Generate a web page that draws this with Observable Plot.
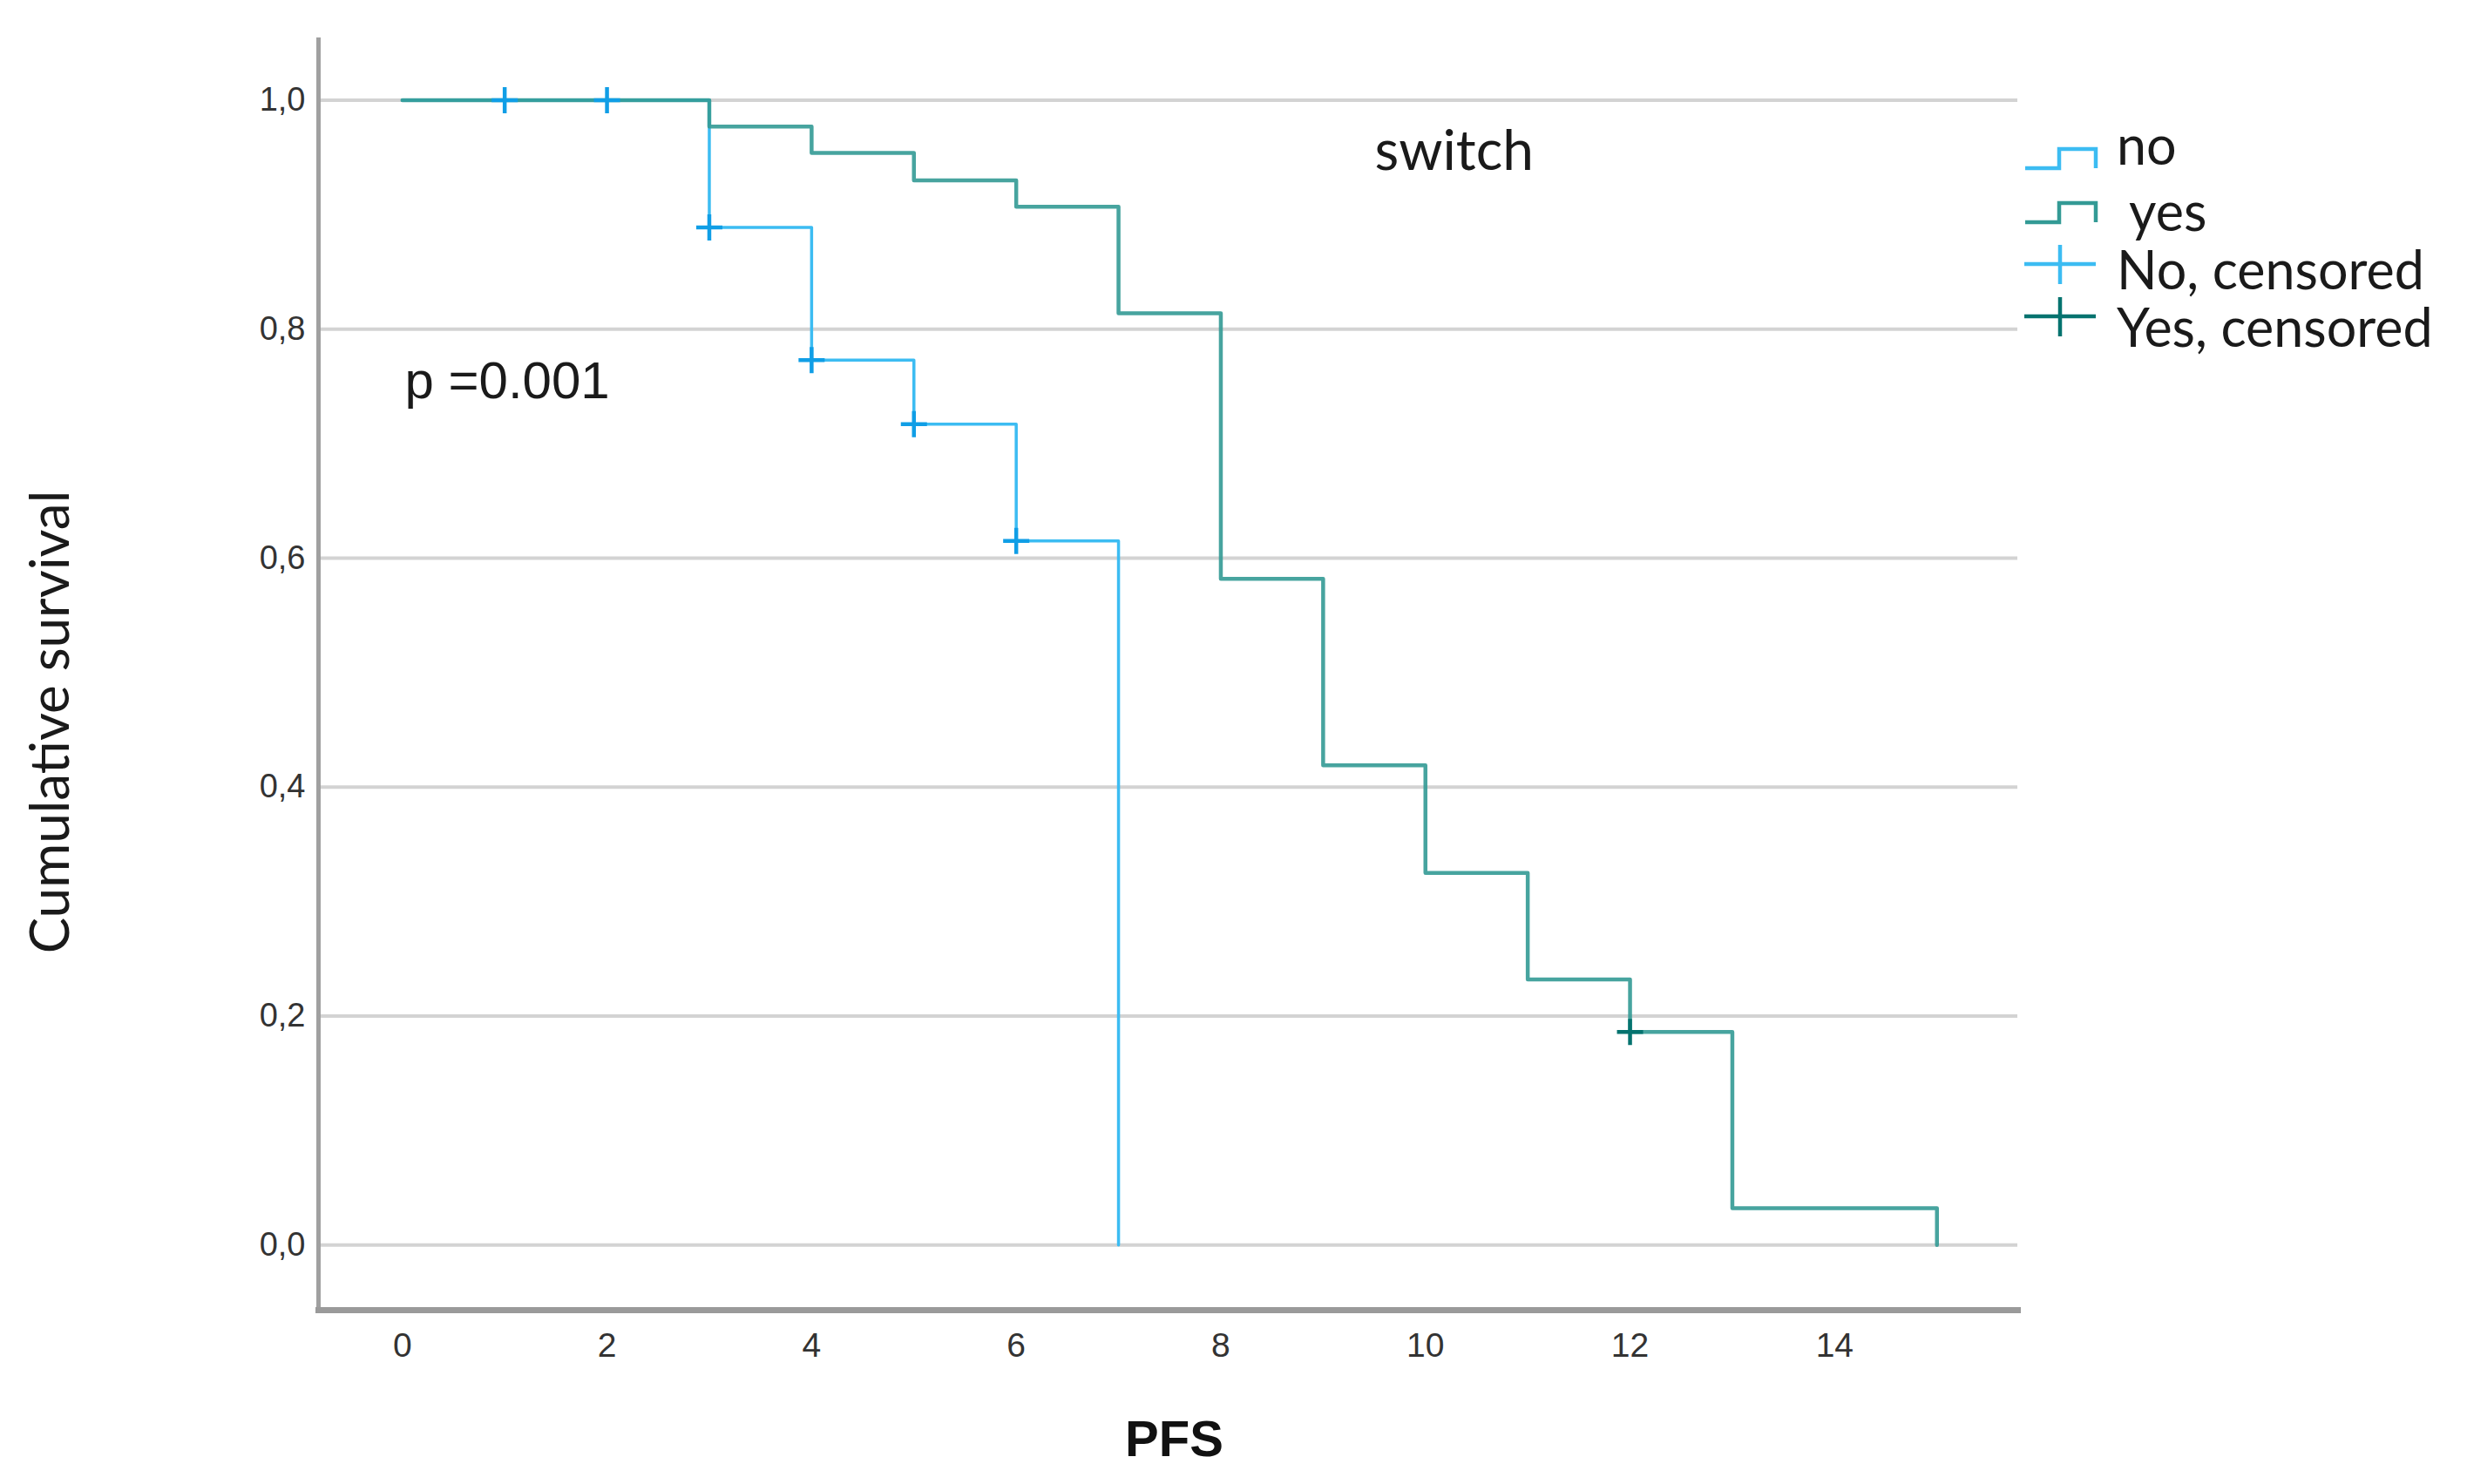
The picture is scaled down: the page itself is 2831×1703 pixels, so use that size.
<!DOCTYPE html>
<html>
<head>
<meta charset="utf-8">
<script src="https://cdn.jsdelivr.net/npm/d3@7"></script>
<script src="https://cdn.jsdelivr.net/npm/@observablehq/plot@0.6"></script>
<style>
  html, body { margin: 0; padding: 0; background: #fff; }
  #chart svg { display: block; }
</style>
</head>
<body>
<div id="chart"></div>
<script>
// ---- Data ----
const noTimes = [0, 3, 4, 5, 6, 7];
const noSurv = [1, 0.889, 0.773, 0.717, 0.615, 0];
const noCensorTimes = [1, 2, 3, 4, 5, 6];
const noCensorSurv = [1, 1, 0.889, 0.773, 0.717, 0.615];

const yesTimes = [0, 3, 4, 5, 6, 7, 8, 9, 10, 11, 12, 13, 15];
const yesSurv = [1, 0.977, 0.954, 0.930, 0.907, 0.814, 0.582, 0.419, 0.325, 0.232, 0.186, 0.032, 0];
const yesCensorTimes = [12];
const yesCensorSurv = [0.186];

const xTicks = [0, 2, 4, 6, 8, 10, 12, 14];
const xTickLabels = ["0", "2", "4", "6", "8", "10", "12", "14"];
const yTicks = [0, 0.2, 0.4, 0.6, 0.8, 1.0];
const yTickLabels = ["0,0", "0,2", "0,4", "0,6", "0,8", "1,0"];

const xLabel = ["PFS"];
const yLabel = ["Cumulative survival"];
const pValueText = ["p =0.001"];
const legendTitle = ["switch"];
const legendLabels = ["no", " yes", "No, censored", "Yes, censored"];

// ---- Build tables ----
const noCurve = noTimes.map((t, i) => ({t, s: noSurv[i]}));
const yesCurve = yesTimes.map((t, i) => ({t, s: yesSurv[i]}));
const noCensor = noCensorTimes.map((t, i) => ({t, s: noCensorSurv[i]}));
const yesCensor = yesCensorTimes.map((t, i) => ({t, s: yesCensorSurv[i]}));

const colNoLine = "#3cbcf2";
const colNoMark = "#109ee6";
const colYesLine = "#339a95";
const colYesMark = "#05736f";

const plusSymbol = {
  draw(context, size) {
    const r = Math.sqrt(size / Math.PI);
    context.moveTo(-r, 0); context.lineTo(r, 0);
    context.moveTo(0, -r); context.lineTo(0, r);
  }
};

const chart = Plot.plot({
  width: 2831,
  height: 1703,
  marginLeft: 365,
  marginRight: 516,
  marginTop: 45,
  marginBottom: 200,
  style: {fontFamily: "'Liberation Sans', Arial, sans-serif", fontSize: "38px", color: "#333", background: "#fff"},
  x: {domain: [-0.82, 15.79], label: null},
  y: {domain: [-0.057, 1.053], label: null},
  marks: [
    Plot.ruleY(yTicks, {stroke: "#d3d3d3", strokeWidth: 4}),
    Plot.frame({anchor: "left", stroke: "#a0a0a0", strokeWidth: 5}),
    Plot.frame({anchor: "bottom", stroke: "#9a9a9a", strokeWidth: 7}),
    Plot.axisX(xTicks, {tickSize: 0, tickPadding: 26, label: null, fontSize: 39, fill: "#333",
      tickFormat: d => xTickLabels[xTicks.indexOf(d)]}),
    Plot.axisY(yTicks, {tickSize: 0, tickPadding: 15, label: null, fontSize: 38, fill: "#333",
      tickFormat: d => yTickLabels[yTicks.indexOf(d)]}),
    Plot.line(noCurve, {x: "t", y: "s", curve: "step-after", stroke: colNoLine, strokeWidth: 3.5}),
    Plot.line(yesCurve, {x: "t", y: "s", curve: "step-after", stroke: colYesLine, strokeWidth: 4.5, strokeOpacity: 0.9}),
    Plot.dot(noCensor, {x: "t", y: "s", symbol: plusSymbol, r: 15, fill: "none", stroke: colNoMark, strokeWidth: 4.5}),
    Plot.dot(yesCensor, {x: "t", y: "s", symbol: plusSymbol, r: 15, fill: "none", stroke: colYesMark, strokeWidth: 4.5}),
    Plot.text(pValueText, {frameAnchor: "top-left", dx: 99, dy: 411, textAnchor: "start", lineAnchor: "bottom",
      fontSize: 60, fill: "#1a1a1a"}),
    Plot.text(legendTitle, {frameAnchor: "top-left", dx: 1212, dy: 149, textAnchor: "start", lineAnchor: "bottom",
      fontSize: 64, fontFamily: "Lato, 'Open Sans', sans-serif", fill: "#1a1a1a"}),
    Plot.text(yLabel, {frameAnchor: "left", dx: -287, dy: 54, rotate: -90, textAnchor: "middle", lineAnchor: "bottom",
      fontSize: 62, fontFamily: "Lato, 'Open Sans', sans-serif", fill: "#1a1a1a"}),
    Plot.text(xLabel, {frameAnchor: "bottom", dx: 7, dy: 167, textAnchor: "middle", lineAnchor: "bottom",
      fontSize: 58, fontWeight: "bold", fill: "#111"})
  ]
});

document.getElementById("chart").appendChild(chart);

// ---- Legend (right of the plot) ----
const svg = d3.select(chart);
const lg = svg.append("g").attr("class", "km-legend").attr("text-anchor", "start");
const legendColors = [colNoLine, colYesLine, colNoLine, colYesMark];
const legendKinds = ["step", "step", "plus", "plus"];
const rowBase = [193, 255, 303, 363];
const textBase = [189, 265, 332, 398];
legendLabels.forEach((label, i) => {
  const c = legendColors[i];
  if (legendKinds[i] === "step") {
    const low = rowBase[i], high = rowBase[i] - 22;
    lg.append("path")
      .attr("d", `M2324,${low}H2363V${high}H2405V${low}`)
      .attr("fill", "none").attr("stroke", c).attr("stroke-width", 4.5);
  } else {
    const cy = rowBase[i];
    lg.append("path")
      .attr("d", `M2323,${cy}H2405M2364,${cy - 22}V${cy + 23}`)
      .attr("fill", "none").attr("stroke", c).attr("stroke-width", 4.5);
  }
  lg.append("text")
    .attr("x", 2429).attr("y", textBase[i])
    .attr("text-anchor", "start")
    .attr("font-family", "Lato, 'Open Sans', sans-serif")
    .attr("font-size", 61)
    .attr("fill", "#1a1a1a")
    .attr("xml:space", "preserve")
    .style("white-space", "pre")
    .text(label);
});
</script>
</body>
</html>
